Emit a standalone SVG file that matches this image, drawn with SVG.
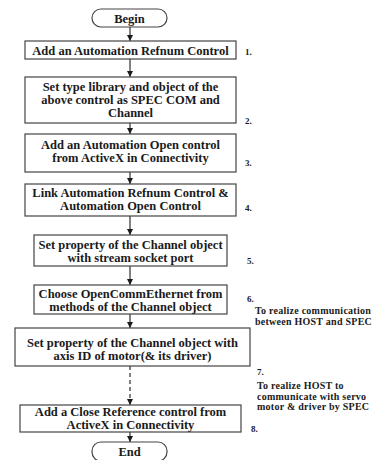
<svg xmlns="http://www.w3.org/2000/svg" width="377" height="460" viewBox="0 0 377 460">
  <style>
    .box { fill: #ffffff; stroke: #444444; stroke-width: 1.2; }
    .t { font-family: "Liberation Serif", "Times New Roman", serif; font-weight: bold; font-size: 12.5px; fill: #1a1a1a; text-anchor: middle; }
    .num { font-family: "Liberation Serif", "Times New Roman", serif; font-weight: bold; font-size: 9px; fill: #1a1a1a; }
    .note { font-family: "Liberation Serif", "Times New Roman", serif; font-weight: bold; font-size: 10px; letter-spacing: 0.25px; fill: #1a1a1a; }
    .edge { stroke: #1a1a1a; stroke-width: 1.1; fill: none; }
    .dash { stroke-dasharray: 4 3; }
  </style>
  <defs>
    <marker id="arrow" viewBox="0 0 10 10" refX="10" refY="5" markerWidth="6" markerHeight="6" orient="auto" markerUnits="userSpaceOnUse">
      <path d="M0,0 L10,5 L0,10 z" fill="#1a1a1a"/>
    </marker>
  </defs>
  <rect width="377" height="460" fill="#ffffff"/>

  <g id="connectors">
    <line class="edge" x1="130" y1="27" x2="130" y2="41" marker-end="url(#arrow)"/>
    <line class="edge" x1="130" y1="59" x2="130" y2="77" marker-end="url(#arrow)"/>
    <line class="edge" x1="130" y1="123" x2="130" y2="134" marker-end="url(#arrow)"/>
    <line class="edge" x1="130" y1="172" x2="130" y2="184" marker-end="url(#arrow)"/>
    <line class="edge" x1="130" y1="216" x2="130" y2="235" marker-end="url(#arrow)"/>
    <line class="edge" x1="130" y1="266" x2="130" y2="285" marker-end="url(#arrow)"/>
    <line class="edge" x1="130" y1="314" x2="130" y2="328" marker-end="url(#arrow)"/>
    <line class="edge dash" x1="130" y1="366" x2="130" y2="405" marker-end="url(#arrow)"/>
    <line class="edge" x1="130" y1="432" x2="130" y2="442" marker-end="url(#arrow)"/>
  </g>

  <g id="begin">
    <rect class="box" x="92" y="9" width="75" height="18" rx="9" ry="9"/>
    <text class="t" x="129.5" y="22.5">Begin</text>
  </g>

  <g id="step1">
    <rect class="box" x="25" y="41" width="211" height="18"/>
    <text class="t" x="130.5" y="54.5">Add an Automation Refnum Control</text>
    <text class="num" x="245" y="55">1.</text>
  </g>

  <g id="step2">
    <rect class="box" x="25" y="77" width="211" height="46"/>
    <text class="t" x="130.5" y="91">Set type library and object of the</text>
    <text class="t" x="130.5" y="104">above control as SPEC COM and</text>
    <text class="t" x="130.5" y="117">Channel</text>
    <text class="num" x="245" y="124">2.</text>
  </g>

  <g id="step3">
    <rect class="box" x="25" y="134" width="211" height="38"/>
    <text class="t" x="130.5" y="149">Add an Automation Open control</text>
    <text class="t" x="130.5" y="162">from ActiveX in Connectivity</text>
    <text class="num" x="245" y="166">3.</text>
  </g>

  <g id="step4">
    <rect class="box" x="25" y="184" width="211" height="32"/>
    <text class="t" x="130.5" y="197">Link Automation Refnum Control &amp;</text>
    <text class="t" x="130.5" y="210">Automation Open Control</text>
    <text class="num" x="245" y="211">4.</text>
  </g>

  <g id="step5">
    <rect class="box" x="34" y="235" width="193" height="31"/>
    <text class="t" x="130.5" y="249">Set property of the Channel object</text>
    <text class="t" x="130.5" y="262">with stream socket port</text>
    <text class="num" x="247" y="264">5.</text>
  </g>

  <g id="step6">
    <rect class="box" x="34" y="285" width="193" height="29"/>
    <text class="t" x="130.5" y="297.5">Choose OpenCommEthernet from</text>
    <text class="t" x="130.5" y="310.5">methods of the Channel object</text>
    <text class="num" x="247" y="302">6.</text>
    <text class="note" x="255" y="314">To realize communication</text>
    <text class="note" x="255" y="324.5">between HOST and SPEC</text>
  </g>

  <g id="step7">
    <rect class="box" x="15" y="328" width="235" height="38"/>
    <text class="t" x="132.5" y="347">Set property of the Channel object with</text>
    <text class="t" x="132.5" y="360">axis ID of motor(&amp; its driver)</text>
    <text class="num" x="257" y="375">7.</text>
    <text class="note" x="257" y="389">To realize HOST to</text>
    <text class="note" x="257" y="399.5">communicate with servo</text>
    <text class="note" x="257" y="410">motor &amp; driver by SPEC</text>
  </g>

  <g id="step8">
    <rect class="box" x="20" y="405" width="221" height="27"/>
    <text class="t" x="130.5" y="416">Add a Close Reference control from</text>
    <text class="t" x="130.5" y="429">ActiveX in Connectivity</text>
    <text class="num" x="251" y="432">8.</text>
  </g>

  <g id="end">
    <rect class="box" x="92" y="442" width="75" height="19" rx="9" ry="9"/>
    <text class="t" x="129.5" y="456">End</text>
  </g>
</svg>
